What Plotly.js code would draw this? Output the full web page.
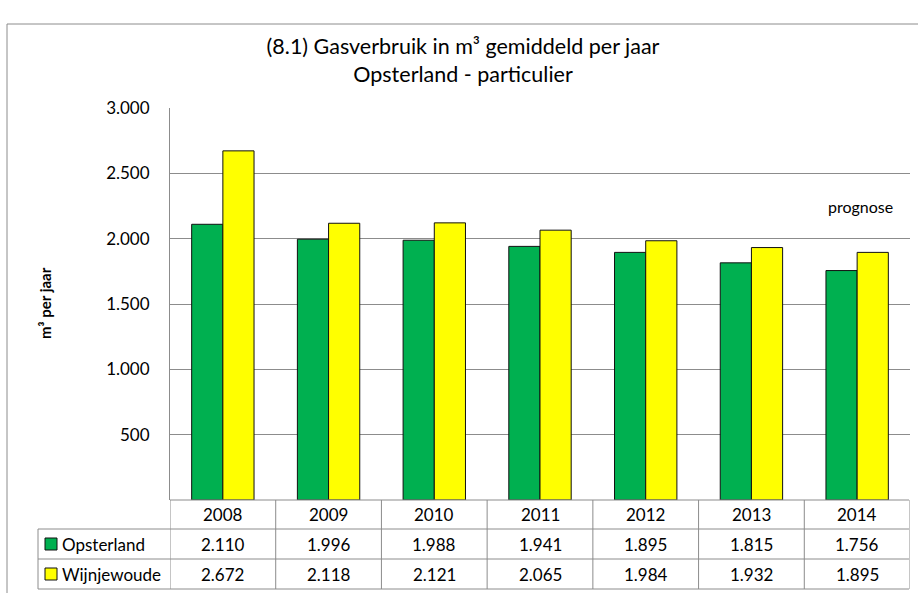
<!DOCTYPE html>
<html>
<head>
<meta charset="utf-8">
<script src="https://cdn.plot.ly/plotly-3.0.1.min.js"></script>
<style>html,body{margin:0;padding:0;background:#fff;}#chart{width:918px;height:593px;}</style>
</head>
<body>
<div id="chart"></div>
<script>
// ---- data ----
const years = ['2008', '2009', '2010', '2011', '2012', '2013', '2014'];
const seriesNames = ['Opsterland', 'Wijnjewoude'];
const opsterland = [2110, 1996, 1988, 1941, 1895, 1815, 1756];
const wijnjewoude = [2672, 2118, 2121, 2065, 1984, 1932, 1895];
const yTickVals = [500, 1000, 1500, 2000, 2500, 3000];
const yTickText = ['500', '1.000', '1.500', '2.000', '2.500', '3.000'];
const titleText = '(8.1) Gasverbruik in m³ gemiddeld per jaar<br>Opsterland - particulier';
const yTitle = 'm³ per jaar';
const noteText = 'prognose';

// ---- style ----
const colors = ['#00B050', '#FFFF00'];
const gridCol = '#8c8c8c';
const FONT = 'Lato, "Open Sans", sans-serif';

function fmt(v) {
  const t = Math.floor(v / 1000), r = v % 1000;
  return t > 0 ? t + '.' + String(r).padStart(3, '0') : String(r);
}

const L = 170, R = 910, T = 108, B = 500, W = 918, H = 593;
const pw = R - L, ph = B - T;
const px = x => (x - L) / pw;      // pixel -> paper x
const py = y => (B - y) / ph;      // pixel -> paper y

const traces = [opsterland, wijnjewoude].map((vals, i) => ({
  type: 'bar', name: seriesNames[i], x: years, y: vals,
  marker: { color: colors[i], line: { color: '#111', width: 1 } },
  hoverinfo: 'x+y'
}));

const shapes = [];
const annotations = [];
const lineStyle = { color: gridCol, width: 1 };

// outer chart border
shapes.push({ type: 'rect', xref: 'paper', yref: 'paper', x0: px(7), x1: px(950), y0: py(620), y1: py(24), line: lineStyle });

// table horizontal lines
shapes.push({ type: 'line', xref: 'paper', yref: 'paper', x0: 0, x1: px(909), y0: 0, y1: 0, line: lineStyle });
[529, 559, 589].forEach(yy => shapes.push({ type: 'line', xref: 'paper', yref: 'paper', x0: px(38), x1: px(909), y0: py(yy), y1: py(yy), line: lineStyle }));
// table vertical lines
shapes.push({ type: 'line', xref: 'paper', yref: 'paper', x0: px(38), x1: px(38), y0: py(529), y1: py(589), line: lineStyle });
for (let i = 0; i <= years.length; i++) {
  shapes.push({ type: 'line', xref: 'x', yref: 'paper', x0: i - 0.5, x1: i - 0.5, y0: 0, y1: py(589), line: lineStyle });
}

const cellFont = { family: FONT, size: 17, color: '#000' };
// header years
years.forEach((yr, i) => annotations.push({ xref: 'x', yref: 'paper', x: i, y: py(514.5), text: yr, showarrow: false, font: cellFont, xanchor: 'center', yanchor: 'middle' }));
// rows
const rowsY = [544, 574];
[opsterland, wijnjewoude].forEach((vals, r) => {
  vals.forEach((v, i) => annotations.push({ xref: 'x', yref: 'paper', x: i, y: py(rowsY[r]), text: fmt(v), showarrow: false, font: cellFont, xanchor: 'center', yanchor: 'middle' }));
  // legend key
  shapes.push({ type: 'rect', xref: 'paper', yref: 'paper', x0: px(45), x1: px(57), y0: py(rowsY[r] - 6), y1: py(rowsY[r] + 6), fillcolor: colors[r], line: { color: '#111', width: 1 } });
  annotations.push({ xref: 'paper', yref: 'paper', x: px(60), y: py(rowsY[r]), text: seriesNames[r], showarrow: false, font: cellFont, xanchor: 'left', yanchor: 'middle' });
});

// y-axis title
annotations.push({ xref: 'paper', yref: 'paper', x: px(45), y: py(303), text: '<b>' + yTitle + '</b>', textangle: -90, showarrow: false, font: { family: FONT, size: 15, color: '#000' }, xanchor: 'center', yanchor: 'middle' });
// prognose note
annotations.push({ xref: 'x', yref: 'paper', x: years.length - 1, xshift: 3, y: py(206), text: noteText, showarrow: false, font: { family: FONT, size: 16, color: '#000' }, xanchor: 'center', yanchor: 'middle' });

const layout = {
  width: W, height: H,
  margin: { l: L, r: W - R, t: T, b: H - B, pad: 0 },
  paper_bgcolor: '#fff', plot_bgcolor: '#fff',
  showlegend: false,
  barmode: 'group', bargap: 0.41, bargroupgap: 0,
  title: { text: titleText, x: 463 / W, xref: 'container', xanchor: 'center', y: 1 - 54 / H, yref: 'container', yanchor: 'middle', font: { family: FONT, size: 21.5, color: '#000' } },
  xaxis: { type: 'category', range: [-0.5, years.length - 0.5], autorange: false, showticklabels: false, showgrid: false, zeroline: false, showline: false, ticks: '' },
  yaxis: { range: [0, 3000], autorange: false, tickvals: yTickVals, ticktext: yTickText, showgrid: true, gridcolor: gridCol, gridwidth: 1, zeroline: false, showline: true, linecolor: gridCol, linewidth: 1, ticks: '', ticklabelstandoff: 16, tickfont: { family: FONT, size: 17, color: '#000' } },
  shapes: shapes,
  annotations: annotations,
  font: { family: FONT }
};

Plotly.newPlot('chart', traces, layout, { displayModeBar: false, staticPlot: true });
</script>
</body>
</html>
